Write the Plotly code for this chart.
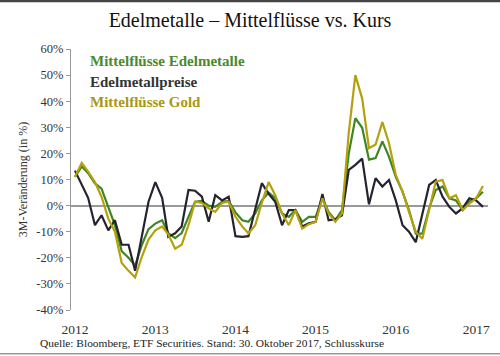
import pandas as pd
import plotly.graph_objects as go

months = pd.date_range("2012-01-01", periods=62, freq="MS").strftime("%Y-%m-%d").tolist()

flows_metals = [11, 15, 12.4, 8.5, 6.5, -0.5, -7.5, -17.5, -20, -23, -15, -9,
                -6.9, -5.6, -10.5, -12.5, -10.5, -4.3, 1.5, 1.8, 0, -0.5, 1.5, 1.8,
                -2.6, -5.6, -6.2, -3, 2, 5, 2.8, -3, -4.3, -1.7, -6.2, -4.3,
                -4.3, 2.8, -2.4, -5.6, -1.7, 20, 33.5, 29.8, 17.6, 18.2, 24.6, 18.8,
                11, 5.3, -1.7, -10.7, -10.7, -1, 6, 7.3, 2.8, 2, -1.7, 1.5,
                2.8, 5.3]

prices = [13.4, 8, 3, -7.5, -3.7, -9.5, -5.6, -15, -15, -25, -12, 1.5,
          9, 3, -12, -10.6, -8, 6, 5.7, 3.4, -6.2, 4, 2, 3.4,
          -11.7, -12, -11.7, -1.7, 8.6, 4.5, 1.5, -7.5, -1.7, -1.7, -8, -6.8,
          -6.2, 4.4, -5.6, -5.2, -3.7, 13.7, 15.6, 18, 0.5, 10.5, 7.3, 9.8,
          2, -7.5, -10, -14, -3, 7.9, 9.8, 3.4, -0.5, -3, -1, 2.8,
          2, -0.5]

flows_gold = [11, 16.4, 13, 9, 3.4, -5, -10, -22, -25, -27.5, -19.5, -13,
              -9.5, -8, -11, -16.5, -15, -7.5, 1.5, 1, -1, -2.4, 1, 1.5,
              -4.3, -8, -10.6, -7.5, 1, 9, 4, -3, -7.5, -1.7, -8.8, -7.1,
              -6.2, 2.8, -3, -6.2, -3, 28, 50, 41, 22, 23.4, 32, 24,
              11.8, 5.3, -2.4, -10, -12.7, -1, 9.2, 9.8, 2.8, 4, -1.7, 0.8,
              2.8, 7.5]

series_names = ["Mittelflüsse Edelmetalle", "Edelmetallpreise", "Mittelflüsse Gold"]
series_colors = ["#3f8526", "#25232f", "#b3a10e"]
label_colors = ["#4a8a2c", "#333333", "#a8980f"]

y_ticks = [60, 50, 40, 30, 20, 10, 0, -10, -20, -30, -40]
x_ticks = ["2012-01-01", "2013-01-01", "2014-01-01", "2015-01-01", "2016-01-01", "2017-01-01"]
x_tick_labels = ["2012", "2013", "2014", "2015", "2016", "2017"]

SERIF = "Liberation Serif, Georgia, serif"

fig = go.Figure()
for name, vals, col in zip(series_names, [flows_metals, prices, flows_gold], series_colors):
    fig.add_trace(go.Scatter(x=months, y=vals, mode="lines", name=name,
                             line=dict(color=col, width=2.2), showlegend=False))

for i, (name, col) in enumerate(zip(series_names, label_colors)):
    fig.add_annotation(text="<b>%s</b>" % name, x=0.04, y=[0.954, 0.874, 0.797][i],
                       xref="paper", yref="paper", xanchor="left", yanchor="middle",
                       showarrow=False, font=dict(family=SERIF, size=15, color=col))

fig.add_annotation(text="Quelle: Bloomberg, ETF Securities. Stand: 30. Oktober 2017, Schlusskurse",
                   x=-0.079, y=-0.127, xref="paper", yref="paper", xanchor="left",
                   yanchor="middle", showarrow=False,
                   font=dict(family=SERIF, size=11.4, color="#222222"))

# frame lines
fig.add_shape(type="line", xref="paper", yref="paper", x0=-0.2, x1=1.1, y0=1.184, y1=1.184,
              line=dict(color="#444444", width=2.5))
fig.add_shape(type="line", xref="paper", yref="paper", x0=-0.2, x1=1.1, y0=-0.168, y1=-0.168,
              line=dict(color="#999999", width=1.5))

fig.update_layout(
    width=500, height=356,
    margin=dict(l=71, r=10, t=49, b=46),
    paper_bgcolor="white", plot_bgcolor="white",
    title=dict(text="Edelmetalle – Mittelflüsse vs. Kurs", x=0.5, xref="container",
               xanchor="center", y=0.945, yanchor="middle",
               font=dict(family=SERIF, size=20, color="#111111")),
    font=dict(family=SERIF, color="#333333"),
)

fig.update_xaxes(type="date", range=["2011-12-14", "2017-02-24"],
                 tickvals=x_ticks, ticktext=x_tick_labels,
                 showgrid=False, showline=False, ticks="", zeroline=False,
                 ticklabelstandoff=9,
                 tickfont=dict(family=SERIF, size=13.5, color="#333333"))
fig.update_yaxes(range=[-40, 60], tickvals=y_ticks,
                 ticktext=["%d%%" % v for v in y_ticks],
                 showgrid=False, showline=True, linecolor="#999999", linewidth=1.2,
                 ticks="outside", ticklen=4, tickcolor="#999999",
                 zeroline=True, zerolinecolor="#999999", zerolinewidth=1.6,
                 tickfont=dict(family=SERIF, size=12.5, color="#333333"),
                 title=dict(text="3M-Veränderung (in %)", standoff=6,
                            font=dict(family=SERIF, size=12, color="#333333")))

fig.write_html("out.html", config={"displayModeBar": False},
               post_script="document.body.style.margin='0';")
